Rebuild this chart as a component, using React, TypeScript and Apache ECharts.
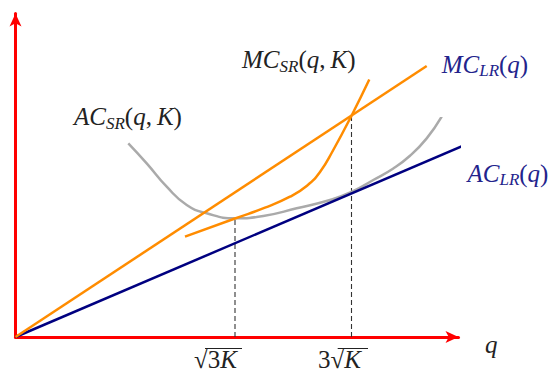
import React, { useEffect, useRef } from "react";
import * as echarts from "echarts";

// q (horizontal) / cost (vertical), in arbitrary chart units
const acLR: number[][] = [[0, 0], [447.8, 191.3]];
const mcLR: number[][] = [[0, 0], [411.2, 271]];
const acSR: number[][] = [
  [112.8, 193.7], [131.2, 173.7], [151.2, 150.3], [171.2, 132], [191.2, 123.7],
  [219.5, 118.7], [247.8, 121], [281.2, 128.7], [314.5, 137], [336, 145],
  [357.8, 157], [377.8, 168.5], [394.5, 181.2], [411.2, 198.6], [426.2, 220.3],
];
const mcSR: number[][] = [
  [169.5, 100.3], [219.5, 118.5], [249.5, 129.3], [274.5, 140.3], [291.5, 151.3],
  [304.5, 165], [317.5, 186.5], [336, 221.3], [353.8, 257.5],
];
const qMin = 219.5; // sqrt(3K)
const acMinVal = 118.7;
const qTan = 336; // 3 sqrt(K)
const mcTanVal = 221.3;
const dashMin: number[][] = [[qMin, 0], [qMin, acMinVal]];
const dashTan: number[][] = [[qTan, 0], [qTan, mcTanVal]];

const X_MAX = 443;
const Y_MAX = 323.5;

const FONT = "'Liberation Serif', 'DejaVu Serif', serif";
const BLACK = "#222222";
const BLUE = "#23238c";

function rich(color: string) {
  return {
    i: { fontFamily: FONT, fontStyle: "italic", fontSize: 25, lineHeight: 30, fill: color },
    r: { fontFamily: FONT, fontStyle: "normal", fontSize: 25, lineHeight: 30, fill: color },
    s: { fontFamily: FONT, fontStyle: "italic", fontSize: 17, lineHeight: 17, verticalAlign: "bottom", fill: color },
  };
}

function label(x: number, baseline: number, text: string, color: string) {
  return {
    type: "text",
    x,
    y: baseline - 23.5,
    z: 100,
    style: {
      text,
      rich: rich(color),
      fill: color,
      align: "left",
      verticalAlign: "top",
      font: `italic 25px ${FONT}`,
    },
  };
}

export default function App() {
  const ref = useRef<HTMLDivElement>(null);
  useEffect(() => {
    document.body.style.margin = "0";
    const chart = echarts.init(ref.current!, null, { renderer: "svg" });
    const axisCommon = {
      type: "value",
      min: 0,
      axisLine: {
        show: true,
        symbol: ["none", "arrow"],
        symbolSize: [9, 13],
        lineStyle: { color: "#ff0000", width: 3 },
      },
      axisTick: { show: false },
      axisLabel: { show: false },
      splitLine: { show: false },
    };
    const lineSeries = (data: number[][], color: string, smooth: number | boolean, extra: any = {}) => ({
      type: "line",
      data,
      smooth,
      symbol: "none",
      showSymbol: false,
      clip: false,
      silent: true,
      lineStyle: { color, width: 2.5, ...(extra.lineStyle || {}) },
      z: extra.z ?? 2,
    });
    chart.setOption({
      animation: false,
      grid: { left: 15.5, top: 13.5, width: X_MAX, height: Y_MAX, containLabel: false },
      xAxis: { ...axisCommon, max: X_MAX },
      yAxis: { ...axisCommon, max: Y_MAX },
      series: [
        lineSeries(dashMin, "#333333", false, { lineStyle: { width: 1.1, type: [5, 3] }, z: 1 }),
        lineSeries(dashTan, "#333333", false, { lineStyle: { width: 1.1, type: [5, 3] }, z: 1 }),
        lineSeries(acSR, "#aaaaaa", 0.5, { z: 2 }),
        lineSeries(acLR, "#000080", false, { z: 3 }),
        lineSeries(mcSR, "#ff8c00", 0.5, { z: 4 }),
        lineSeries(mcLR, "#ff8c00", false, { z: 4 }),
      ],
      graphic: [
        label(74, 125, "{i|AC}{s|SR}{r|(}{i|q}{r|,\u2009}{i|K}{r|)}", BLACK),
        label(242, 68.3, "{i|MC}{s|SR}{r|(}{i|q}{r|,\u2009}{i|K}{r|)}", BLACK),
        label(441.7, 72.7, "{i|MC}{s|LR}{r|(}{i|q}{r|)}", BLUE),
        label(467.5, 181.7, "{i|AC}{s|LR}{r|(}{i|q}{r|)}", BLUE),
        label(485, 353, "{i|q}", BLACK),
        label(194, 368.3, "{r|√3}{i|K}", BLACK),
        label(318, 368.3, "{r|3√}{i|K}", BLACK),
        { type: "line", z: 100, shape: { x1: 205, y1: 348.5, x2: 242, y2: 348.5 }, style: { stroke: BLACK, lineWidth: 1 } },
        { type: "line", z: 100, shape: { x1: 337.7, y1: 348.5, x2: 368, y2: 348.5 }, style: { stroke: BLACK, lineWidth: 1 } },
      ],
    });
    return () => chart.dispose();
  }, []);
  return <div ref={ref} style={{ width: 550, height: 377 }} />;
}
